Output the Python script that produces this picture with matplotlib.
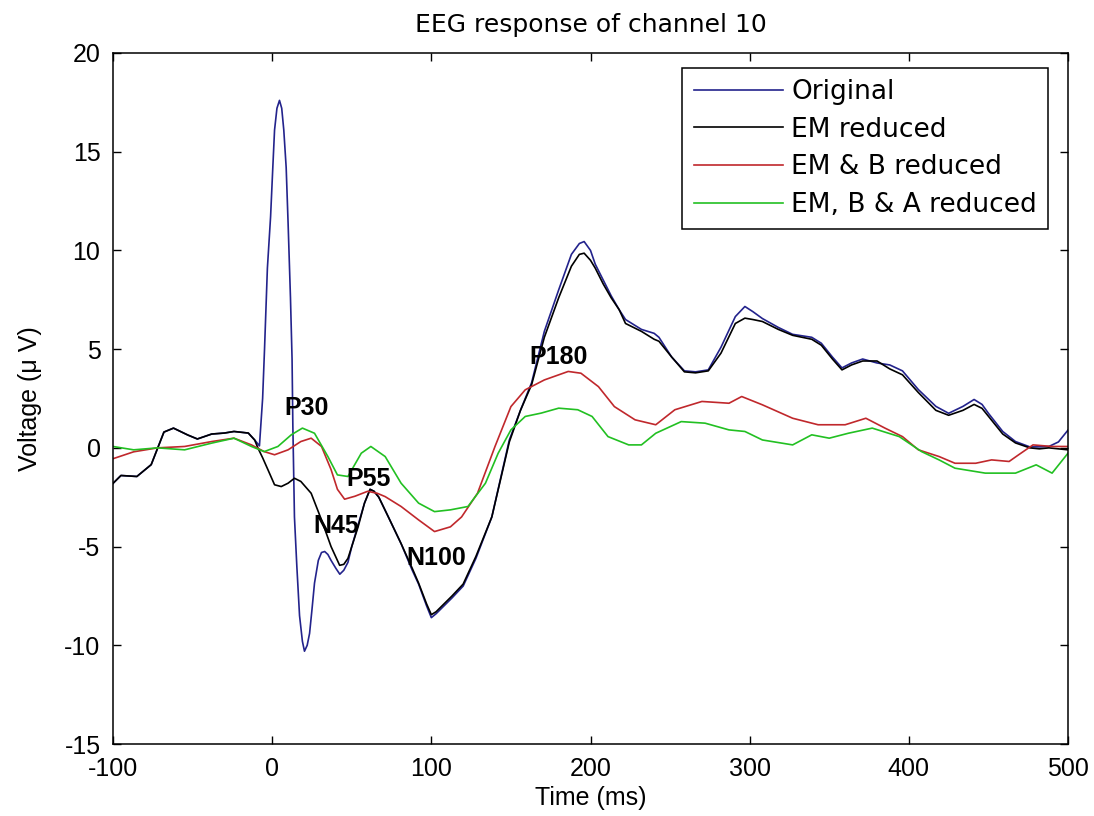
import numpy as np
import matplotlib
matplotlib.use('Agg')
import matplotlib.pyplot as plt

plt.rcParams['font.family'] = ['Liberation Sans', 'DejaVu Sans']
plt.rcParams['axes.unicode_minus'] = False

# Original (blue)
t_orig = [-100, -95, -85, -76, -68, -62, -53, -47, -38, -30, -24, -15, -11, -8, -6, -4.8, -3, -1, 0.4,
          1.5, 3, 4.6, 6, 7.3, 8.8, 10, 11.5, 12.5, 13, 14, 15.5, 17.2, 19, 20.3, 22, 23.5, 25, 26.6,
          29, 31, 33, 35, 37, 40, 42.5, 45, 47.6, 50, 54, 58, 61.5, 64, 67, 73, 81, 88, 92, 97, 100,
          103, 108, 113, 120, 128, 138, 149, 156, 163, 171, 180, 188, 193, 196, 200, 203, 208, 213,
          218, 222, 232, 240, 243, 251, 259, 266, 274, 282, 291, 297, 302, 308, 318, 327, 339, 345,
          352, 358, 364, 371, 380, 388, 396, 406, 417, 425, 434, 441, 446, 450, 459, 467, 476, 482,
          488, 494, 500]
v_orig = [-1.8, -1.4, -1.45, -0.85, 0.8, 1.0, 0.65, 0.45, 0.7, 0.75, 0.83, 0.75, 0.4, 0.1, 2.5, 5.0,
          9.1, 11.7, 14.2, 16.1, 17.2, 17.6, 17.2, 16.1, 14.2, 11.4, 7.6, 4.5, 1.1, -3.5, -6.0, -8.5,
          -9.8, -10.3, -10.0, -9.4, -8.2, -6.85, -5.7, -5.3, -5.25, -5.4, -5.7, -6.1, -6.4, -6.2,
          -5.8, -5.0, -3.9, -2.8, -2.1, -2.2, -2.5, -3.5, -4.85, -6.2, -6.9, -8.0, -8.6, -8.4, -8.0,
          -7.6, -7.0, -5.6, -3.5, 0.4, 1.9, 3.3, 5.9, 8.0, 9.8, 10.35, 10.45, 10.0, 9.3, 8.5, 7.7,
          7.0, 6.5, 6.0, 5.8, 5.6, 4.6, 3.9, 3.85, 3.95, 5.1, 6.65, 7.16, 6.9, 6.55, 6.1, 5.75, 5.6,
          5.3, 4.6, 4.05, 4.3, 4.5, 4.3, 4.2, 3.9, 2.95, 2.1, 1.75, 2.1, 2.45, 2.2, 1.75, 0.83, 0.32,
          0.05, 0.05, 0.07, 0.3, 0.9]

# EM reduced (black)
t_em = [-100, -95, -85, -76, -68, -62, -53, -47, -38, -30, -24, -15, -11, -9, -6, -2.7, 1.5, 5.7,
        10, 14, 18, 24.5, 31, 37, 42.4, 45, 47.6, 54, 58, 61.5, 64, 67, 73, 81, 88, 92, 97, 100,
        103, 108, 113, 120, 128, 138, 149, 156, 163, 171, 180, 188, 193, 196, 200, 203, 208, 213,
        218, 222, 232, 240, 243, 251, 259, 266, 274, 282, 291, 297, 302, 308, 318, 327, 339, 345,
        352, 358, 364, 371, 380, 388, 396, 406, 417, 425, 434, 441, 446, 450, 459, 467, 476, 482,
        488, 494, 500]
v_em = [-1.8, -1.4, -1.45, -0.85, 0.8, 1.0, 0.65, 0.45, 0.7, 0.75, 0.83, 0.75, 0.4, 0.0, -0.5,
        -1.1, -1.87, -1.96, -1.79, -1.54, -1.7, -2.3, -3.65, -5.0, -5.95, -5.9, -5.6, -4.0, -2.8,
        -2.1, -2.2, -2.5, -3.5, -4.85, -6.1, -6.85, -7.9, -8.45, -8.3, -7.9, -7.5, -6.9, -5.5,
        -3.5, 0.3, 1.9, 3.2, 5.6, 7.6, 9.2, 9.8, 9.86, 9.5, 9.1, 8.3, 7.6, 7.0, 6.3, 5.9, 5.5,
        5.4, 4.6, 3.85, 3.8, 3.9, 4.8, 6.3, 6.57, 6.5, 6.4, 6.0, 5.7, 5.5, 5.2, 4.5, 3.95, 4.2,
        4.4, 4.4, 4.0, 3.7, 2.8, 1.9, 1.65, 1.9, 2.2, 2.0, 1.6, 0.7, 0.25, 0.0, -0.05, 0.0,
        -0.05, -0.1]

# EM & B reduced (red)
t_emb = [-100, -87, -72, -55, -38, -24, -13, -5, 1.5, 10, 18, 24.5, 31, 37, 41, 45.5, 52, 60, 66,
         71, 81, 92, 102, 112, 119, 129, 140, 150, 159, 171, 186, 194, 205, 215, 228, 241, 253,
         270, 287, 295, 308, 327, 343, 360, 373, 385, 396, 406, 419, 429, 442, 452, 463, 469,
         478, 490, 500]
v_emb = [-0.55, -0.2, 0.0, 0.07, 0.32, 0.49, 0.15, -0.19, -0.35, -0.1, 0.32, 0.49, 0.07, -1.1,
         -2.1, -2.6, -2.45, -2.2, -2.3, -2.47, -2.97, -3.65, -4.24, -4.0, -3.5, -2.3, 0.07, 2.09,
         2.94, 3.44, 3.87, 3.78, 3.1, 2.09, 1.42, 1.17, 1.93, 2.35, 2.26, 2.6, 2.18, 1.5, 1.17,
         1.17, 1.5, 1.0, 0.57, -0.1, -0.44, -0.78, -0.78, -0.61, -0.69, -0.35, 0.15, 0.07, 0.07]

# EM, B & A reduced (green)
t_emba = [-100, -87, -72, -55, -38, -24, -13, -5, 3.6, 12, 19, 26.6, 35, 41, 47.6, 56, 62, 71, 81,
          92, 102, 112, 123, 134, 142, 150, 159, 169, 180, 192, 201, 211, 224, 232, 241, 257, 272,
          287, 297, 308, 327, 339, 350, 362, 377, 394, 408, 419, 429, 448, 467, 480, 490, 500]
v_emba = [0.07, -0.1, 0.0, -0.1, 0.24, 0.49, 0.07, -0.19, 0.07, 0.66, 1.0, 0.74, -0.44, -1.37,
          -1.45, -0.27, 0.07, -0.44, -1.79, -2.8, -3.23, -3.14, -2.97, -1.79, -0.27, 0.91, 1.59,
          1.76, 2.01, 1.93, 1.59, 0.57, 0.15, 0.15, 0.74, 1.33, 1.25, 0.91, 0.83, 0.4, 0.15, 0.66,
          0.49, 0.74, 1.0, 0.57, -0.19, -0.61, -1.03, -1.28, -1.28, -0.86, -1.28, -0.27]

labels = ['Original', 'EM reduced', 'EM & B reduced', 'EM, B & A reduced']

peak_names = ['P30', 'N45', 'P55', 'N100', 'P180']
peak_t = [7.6, 26, 46.6, 84.3, 161.7]
peak_v = [2.03, -3.95, -1.6, -5.6, 4.6]

fs = 18
wide = ['DejaVu Sans']

fig = plt.figure(figsize=(10.94, 8.16), dpi=100)
ax = fig.add_axes([113 / 1094, 1 - 744 / 816, (1068 - 113) / 1094, (744 - 53) / 816])

ax.plot(t_orig, v_orig, color='#23238c', lw=1.2, label=labels[0])
ax.plot(t_em, v_em, color='black', lw=1.2, label=labels[1])
ax.plot(t_emb, v_emb, color='#c0282c', lw=1.2, label=labels[2])
ax.plot(t_emba, v_emba, color='#22c022', lw=1.2, label=labels[3])

for name, t, v in zip(peak_names, peak_t, peak_v):
    ax.text(t, v, name, fontsize=fs, fontweight='bold', ha='left', va='center')

ax.set_xlim(-100, 500)
ax.set_ylim(-15, 20)
ax.set_xticks(np.arange(-100, 501, 100))
ax.set_yticks(np.arange(-15, 21, 5))
ax.tick_params(direction='in', top=True, right=True, length=6, width=1, labelsize=fs, pad=9)
for s in ax.spines.values():
    s.set_linewidth(1.1)

ax.set_title('EEG response of channel 10', fontsize=fs, family=wide, pad=15)
ax.set_xlabel('Time (ms)', fontsize=fs, labelpad=4)
ax.set_ylabel('Voltage (\u03bc V)', fontsize=fs, labelpad=16)

leg = ax.legend(loc='upper right', bbox_to_anchor=(1048 / 1094, 1 - 68 / 816),
                bbox_transform=fig.transFigure, prop={'family': wide, 'size': 19},
                fancybox=False, frameon=True, edgecolor='black', framealpha=1,
                borderaxespad=0, handlelength=3.4, handletextpad=0.3,
                labelspacing=0.44, borderpad=0.42)
leg.get_frame().set_linewidth(1.1)

fig.savefig('out.png', dpi=100)
